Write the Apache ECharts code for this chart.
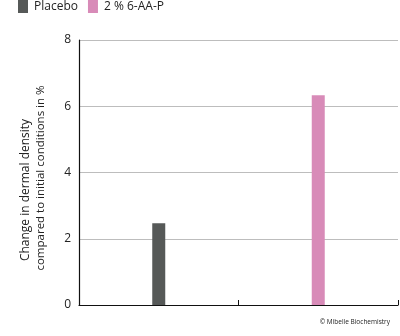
<!DOCTYPE html>
<html>
<head>
<meta charset="utf-8">
<style>html,body{margin:0;padding:0;background:#fff}#c{width:400px;height:336px}</style>
<script src="https://cdn.jsdelivr.net/npm/echarts@6/dist/echarts.min.js"></script>
</head>
<body>
<div id="c"></div>
<script>
const categories = ['Placebo', '2 % 6-AA-P'];
const placeboValues = [2.47, null];
const activeValues = [null, 6.33];
const yTicks = [0, 2, 4, 6, 8];
const yTitleLines = ['Change in dermal density', 'compared to initial conditions in %'];
const credit = '© Mibelle Biochemistry';

const FONT = 'Open Sans';
const chart = echarts.init(document.getElementById('c'), null, {renderer: 'canvas'});
chart.setOption({
  animation: false,
  backgroundColor: '#fff',
  textStyle: {fontFamily: FONT},
  legend: {
    left: 18, top: 0, padding: 0, itemWidth: 10, itemHeight: 13, itemGap: 10,
    icon: 'rect',
    textStyle: {fontSize: 12, color: '#222', fontFamily: FONT, padding: [0, 0, 0, 1]},
    data: categories
  },
  grid: {left: 79, right: 2, top: 40, bottom: 31, containLabel: false},
  xAxis: {
    type: 'category', data: categories, boundaryGap: true,
    axisLine: {lineStyle: {color: '#111', width: 1.2}},
    axisTick: {show: true, inside: true, length: 5, lineStyle: {color: '#111'}},
    axisLabel: {show: false}
  },
  yAxis: {
    type: 'value', min: yTicks[0], max: yTicks[yTicks.length - 1], interval: 2,
    axisLine: {show: true, lineStyle: {color: '#111', width: 1.2}},
    axisTick: {show: false},
    axisLabel: {margin: 8, fontSize: 12, color: '#222', fontFamily: FONT},
    splitLine: {show: true, lineStyle: {color: '#bdbdbd', width: 1}}
  },
  series: [
    {name: categories[0], type: 'bar', stack: 's', data: placeboValues, barWidth: 13,
     itemStyle: {color: '#565958'}},
    {name: categories[1], type: 'bar', stack: 's', data: activeValues, barWidth: 13,
     itemStyle: {color: '#d88bb8'}}
  ],
  graphic: [
    {type: 'text', x: 26, y: 190, rotation: Math.PI / 2,
     style: {text: yTitleLines[0], fontSize: 12, fontFamily: FONT, fill: '#222', textAlign: 'center', textVerticalAlign: 'middle'}},
    {type: 'text', x: 41, y: 178, rotation: Math.PI / 2,
     style: {text: yTitleLines[1], fontSize: 11.5, fontFamily: FONT, fill: '#222', textAlign: 'center', textVerticalAlign: 'middle'}},
    {type: 'text', x: 390, y: 322,
     style: {text: credit, fontSize: 6.5, fontFamily: FONT, fill: '#222', textAlign: 'right', textVerticalAlign: 'middle'}}
  ]
});
</script>
</body>
</html>
